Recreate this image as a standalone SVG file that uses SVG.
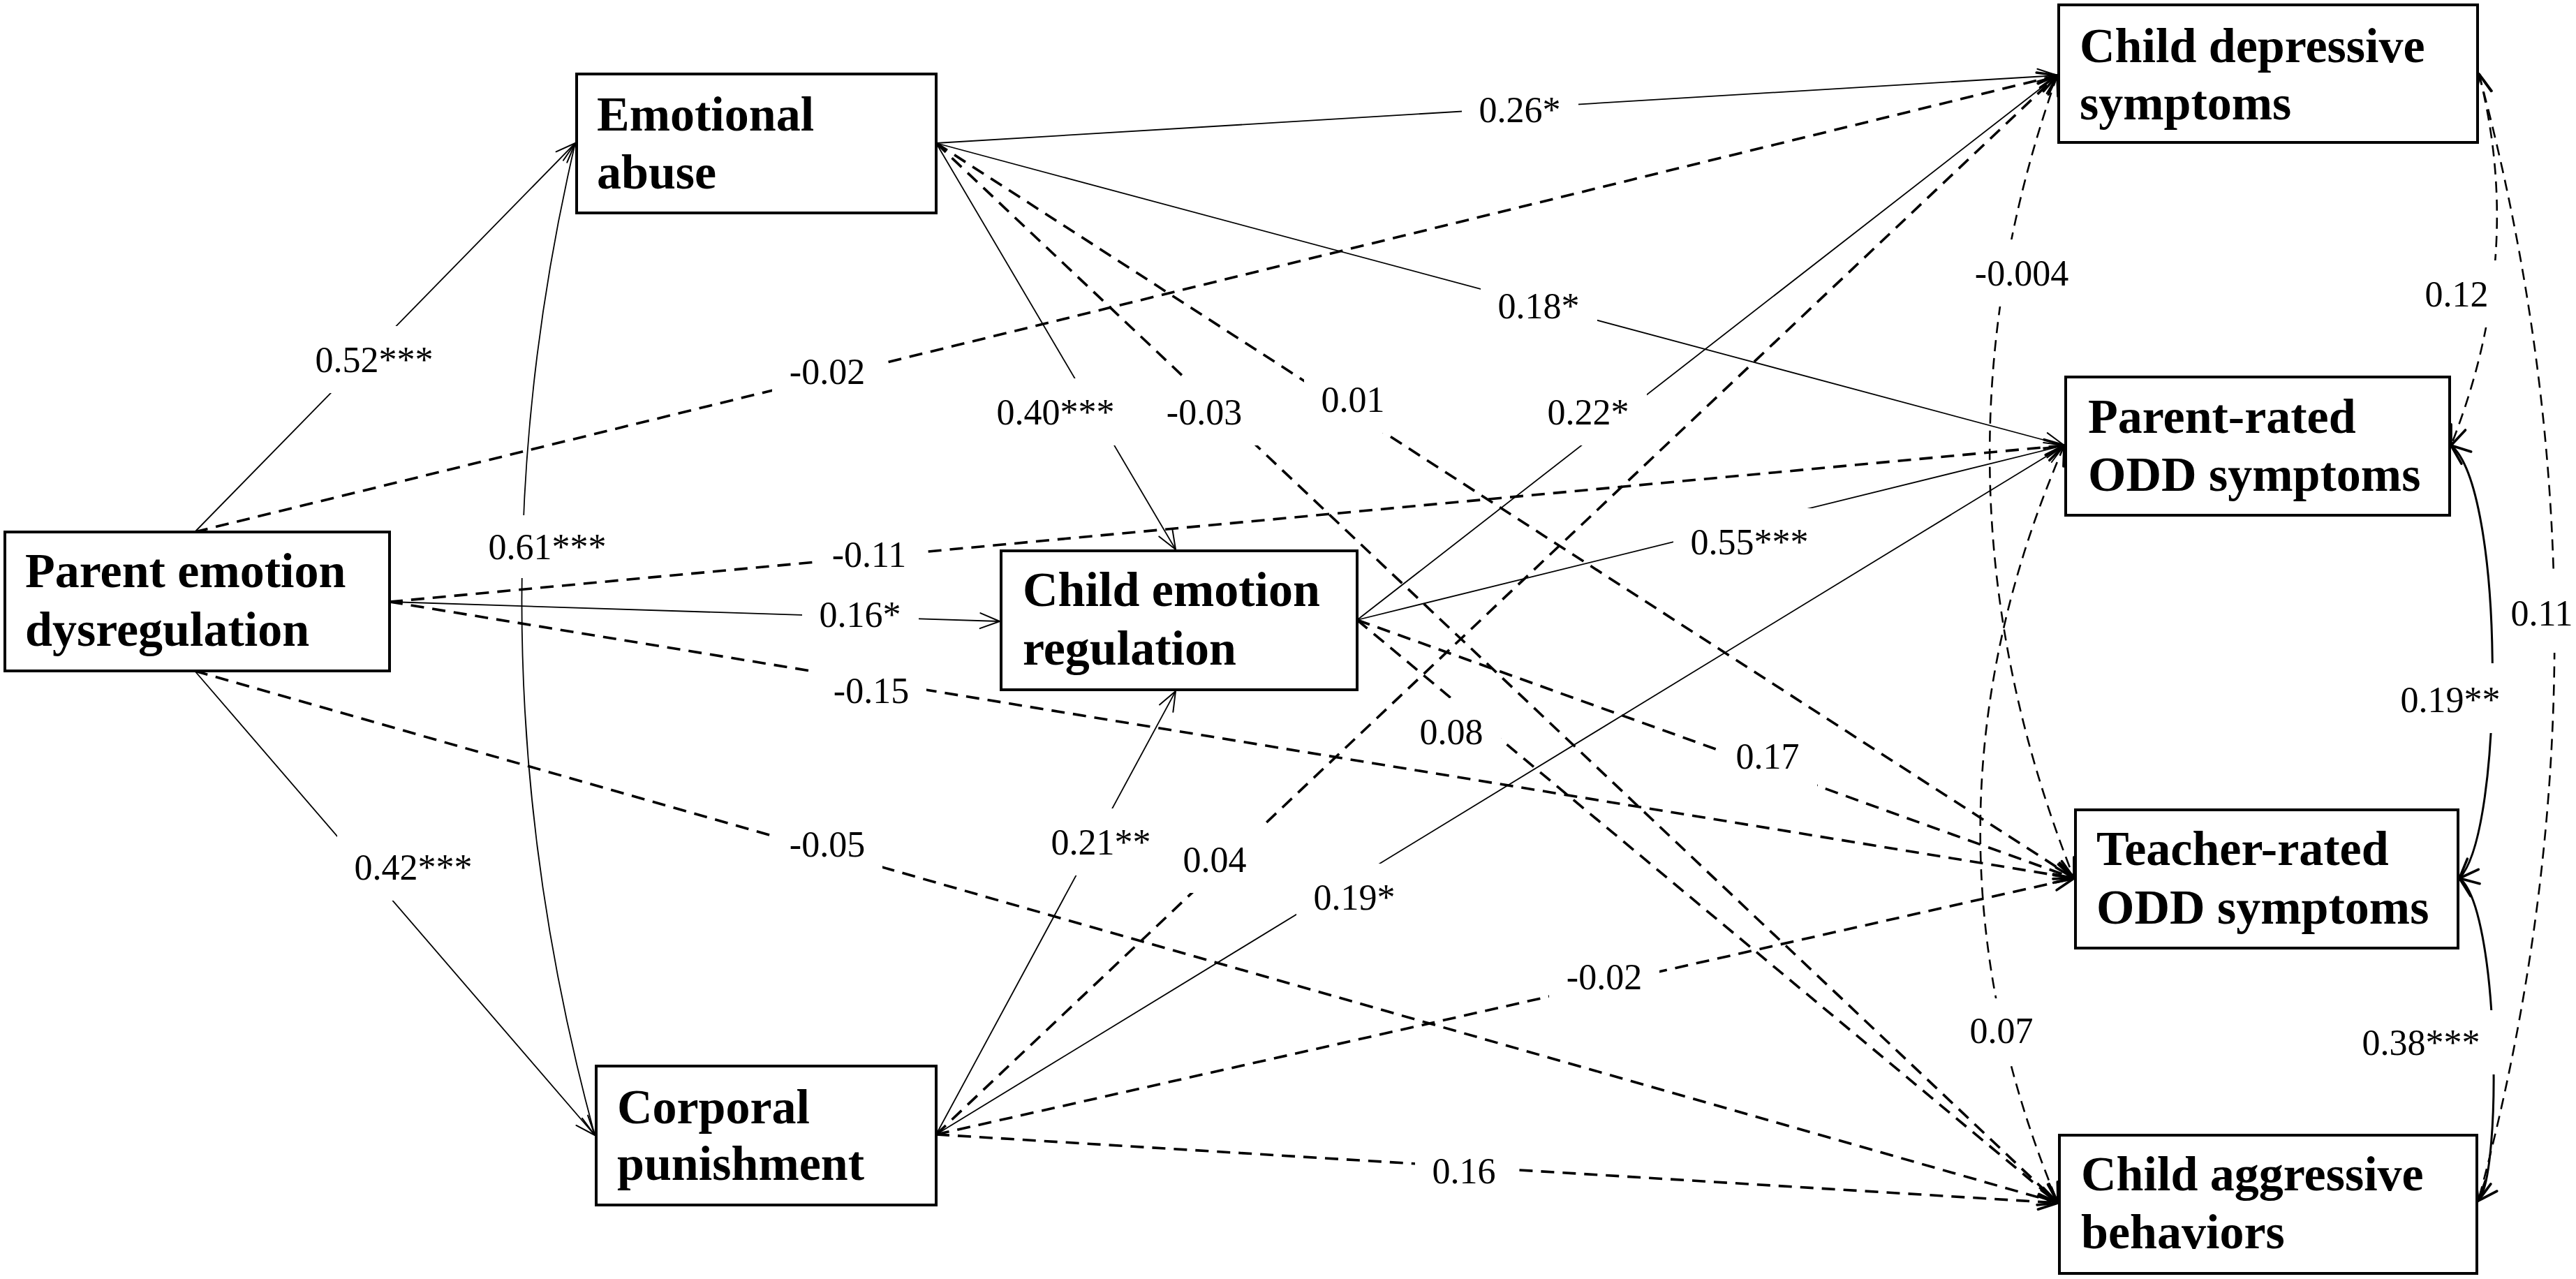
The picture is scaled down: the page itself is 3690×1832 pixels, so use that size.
<svg xmlns="http://www.w3.org/2000/svg" width="3690" height="1832" viewBox="0 0 3690 1832">
<style>
.box{fill:#fff;stroke:#000;stroke-width:4}
.nt{font-family:"Liberation Serif","Times New Roman",serif;font-weight:bold;font-size:70px;fill:#000}
.lt{font-family:"Liberation Serif","Times New Roman",serif;font-size:52px;fill:#000;text-anchor:middle}
.s{fill:none;stroke:#000;stroke-width:1.8;marker-end:url(#as)}
.d{fill:none;stroke:#000;stroke-width:3.6;stroke-dasharray:19 12;marker-end:url(#ad)}
.cs{fill:none;stroke:#000;stroke-width:1.8;marker-start:url(#as);marker-end:url(#as)}
.ct{fill:none;stroke:#000;stroke-width:3;marker-start:url(#ad);marker-end:url(#ad)}
.cd{fill:none;stroke:#000;stroke-width:2.6;stroke-dasharray:16 10;marker-start:url(#ad);marker-end:url(#ad)}
.bg{fill:#fff}
</style>
<defs>
<marker id="as" markerUnits="userSpaceOnUse" viewBox="-32 -16 36 32" refX="0" refY="0" markerWidth="36" markerHeight="32" orient="auto-start-reverse" overflow="visible"><path d="M-28,-11 L0,0 L-28,11" fill="none" stroke="#000" stroke-width="2" stroke-linejoin="round" stroke-linecap="round"/></marker>
<marker id="ad" markerUnits="userSpaceOnUse" viewBox="-32 -16 36 32" refX="0" refY="0" markerWidth="36" markerHeight="32" orient="auto-start-reverse" overflow="visible"><path d="M-28,-11 L0,0 L-28,11" fill="none" stroke="#000" stroke-width="3.6" stroke-linejoin="round" stroke-linecap="round"/></marker>
</defs>
<rect width="3690" height="1832" fill="#fff"/>
<g id="connectors">
<path class="s" d="M279,762 L824,205"/>
<path class="d" d="M279,762 L2947,108"/>
<path class="s" d="M279,961 L852,1626"/>
<path class="d" d="M279,961 L2948,1723"/>
<path class="d" d="M558,862 L2957,638"/>
<path class="s" d="M558,862 L1432,890"/>
<path class="d" d="M558,862 L2971,1258"/>
<path class="s" d="M1341,205 L2947,108"/>
<path class="s" d="M1341,205 L2957,638"/>
<path class="s" d="M1341,205 L1684,787"/>
<path class="d" d="M1341,205 L2971,1258"/>
<path class="d" d="M1341,205 L2948,1723"/>
<path class="s" d="M1944,888 L2947,108"/>
<path class="s" d="M1944,888 L2957,638"/>
<path class="d" d="M1944,888 L2971,1258"/>
<path class="d" d="M1944,888 L2948,1723"/>
<path class="s" d="M1341,1625 L1684,990"/>
<path class="d" d="M1341,1625 L2947,108"/>
<path class="s" d="M1341,1625 L2957,638"/>
<path class="d" d="M1341,1625 L2971,1258"/>
<path class="d" d="M1341,1625 L2948,1723"/>
<path class="cs" d="M824,205 Q658,915 852,1626"/>
<path class="cd" d="M2947,108 Q2742,683 2971,1258"/>
<path class="cd" d="M2957,638 Q2721,1181 2948,1723"/>
<path class="cd" d="M3551,106 Q3618,368 3511,638"/>
<path class="cd" d="M3551,106 Q3768,913 3550,1720"/>
<path class="ct" d="M3511,638 C3588,700 3588,1190 3523,1258"/>
<path class="ct" d="M3523,1258 C3580,1300 3585,1680 3550,1720"/>
</g>
<g id="label-bg">
<rect class="bg" x="427" y="467" width="219" height="96"/>
<rect class="bg" x="1106" y="484" width="158" height="96"/>
<rect class="bg" x="675" y="738" width="219" height="90"/>
<rect class="bg" x="1166" y="746" width="158" height="96"/>
<rect class="bg" x="1149" y="832" width="167" height="96"/>
<rect class="bg" x="2094" y="109" width="167" height="96"/>
<rect class="bg" x="2121" y="390" width="167" height="96"/>
<rect class="bg" x="1403" y="542" width="219" height="96"/>
<rect class="bg" x="1646" y="542" width="158" height="96"/>
<rect class="bg" x="1868" y="524" width="141" height="96"/>
<rect class="bg" x="2192" y="542" width="167" height="96"/>
<rect class="bg" x="2397" y="728" width="219" height="96"/>
<rect class="bg" x="2804" y="343" width="184" height="96"/>
<rect class="bg" x="3449" y="373" width="141" height="96"/>
<rect class="bg" x="3592" y="818" width="98" height="117"/>
<rect class="bg" x="1169" y="941" width="158" height="96"/>
<rect class="bg" x="1106" y="1161" width="158" height="96"/>
<rect class="bg" x="483" y="1194" width="219" height="96"/>
<rect class="bg" x="1481" y="1158" width="193" height="96"/>
<rect class="bg" x="1670" y="1183" width="141" height="96"/>
<rect class="bg" x="1857" y="1237" width="167" height="96"/>
<rect class="bg" x="2009" y="1000" width="141" height="96"/>
<rect class="bg" x="2462" y="1035" width="141" height="96"/>
<rect class="bg" x="2219" y="1351" width="158" height="96"/>
<rect class="bg" x="2027" y="1629" width="141" height="96"/>
<rect class="bg" x="3420" y="950" width="180" height="100"/>
<rect class="bg" x="2800" y="1430" width="135" height="94"/>
<rect class="bg" x="3365" y="1447" width="225" height="92"/>
</g>
<g id="labels">
<text class="lt" x="536" y="533">0.52***</text>
<text class="lt" x="1185" y="550">-0.02</text>
<text class="lt" x="784" y="801">0.61***</text>
<text class="lt" x="1245" y="812">-0.11</text>
<text class="lt" x="1232" y="898">0.16*</text>
<text class="lt" x="2177" y="175">0.26*</text>
<text class="lt" x="2204" y="456">0.18*</text>
<text class="lt" x="1512" y="608">0.40***</text>
<text class="lt" x="1725" y="608">-0.03</text>
<text class="lt" x="1938" y="590">0.01</text>
<text class="lt" x="2275" y="608">0.22*</text>
<text class="lt" x="2506" y="794">0.55***</text>
<text class="lt" x="2896" y="409">-0.004</text>
<text class="lt" x="3519" y="439">0.12</text>
<text class="lt" x="3641" y="896">0.11</text>
<text class="lt" x="1248" y="1007">-0.15</text>
<text class="lt" x="1185" y="1227">-0.05</text>
<text class="lt" x="592" y="1260">0.42***</text>
<text class="lt" x="1577" y="1224">0.21**</text>
<text class="lt" x="1740" y="1249">0.04</text>
<text class="lt" x="1940" y="1303">0.19*</text>
<text class="lt" x="2079" y="1066">0.08</text>
<text class="lt" x="2532" y="1101">0.17</text>
<text class="lt" x="2298" y="1417">-0.02</text>
<text class="lt" x="2097" y="1695">0.16</text>
<text class="lt" x="3510" y="1020">0.19**</text>
<text class="lt" x="2867" y="1494">0.07</text>
<text class="lt" x="3468" y="1511">0.38***</text>
</g>
<g id="node-ped">
<rect class="box" x="7" y="762" width="551" height="199"/>
<text class="nt" x="36" y="841">Parent emotion</text>
<text class="nt" x="36" y="925">dysregulation</text>
</g>
<g id="node-ea">
<rect class="box" x="826" y="106" width="515" height="199"/>
<text class="nt" x="855" y="187">Emotional</text>
<text class="nt" x="855" y="270">abuse</text>
</g>
<g id="node-cp">
<rect class="box" x="854" y="1527" width="487" height="199"/>
<text class="nt" x="884" y="1609">Corporal</text>
<text class="nt" x="884" y="1690">punishment</text>
</g>
<g id="node-cer">
<rect class="box" x="1434" y="789" width="510" height="199"/>
<text class="nt" x="1465" y="868">Child emotion</text>
<text class="nt" x="1465" y="952">regulation</text>
</g>
<g id="node-cds">
<rect class="box" x="2949" y="7" width="600" height="197"/>
<text class="nt" x="2979" y="89">Child depressive</text>
<text class="nt" x="2979" y="171">symptoms</text>
</g>
<g id="node-prodd">
<rect class="box" x="2959" y="540" width="550" height="198"/>
<text class="nt" x="2991" y="620">Parent-rated</text>
<text class="nt" x="2991" y="703">ODD symptoms</text>
</g>
<g id="node-trodd">
<rect class="box" x="2973" y="1160" width="548" height="198"/>
<text class="nt" x="3003" y="1239">Teacher-rated</text>
<text class="nt" x="3003" y="1323">ODD symptoms</text>
</g>
<g id="node-cab">
<rect class="box" x="2950" y="1626" width="598" height="198"/>
<text class="nt" x="2981" y="1705">Child aggressive</text>
<text class="nt" x="2981" y="1788">behaviors</text>
</g>
</svg>
